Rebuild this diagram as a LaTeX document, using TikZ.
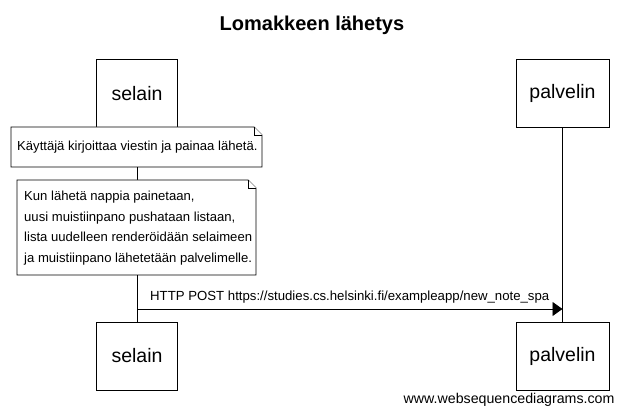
\documentclass[tikz,border=0pt]{standalone}
\usepackage{fontspec}
\setmainfont{Liberation Sans}
\usetikzlibrary{arrows.meta}
\tikzset{
  actor/.style={draw=black, line width=0.9pt, fill=white, minimum width=81pt, minimum height=68pt, inner sep=0pt, font=\fontsize{19.5}{22}\selectfont},
  notetext/.style={align=left, inner sep=0pt, font=\fontsize{13.1}{20.5}\selectfont},
  lifeline/.style={line width=0.9pt},
  msg/.style={line width=0.9pt, -{Triangle[length=10pt,width=14pt]}},
  notebox/.style={draw=black, line width=0.9pt, fill=white},
  fold/.style={draw=black, line width=0.9pt, fill=white},
}
\newcommand{\notefold}[4]{% x1 y1 x2 y2
  \path[notebox] (#1,#2) -- (#3-8,#2) -- (#3,#2+8) -- (#3,#4) -- (#1,#4) -- cycle;
  \path[fold] (#3-8,#2) -- (#3-8,#2+8) -- (#3,#2+8);
}
\begin{document}
\begin{tikzpicture}[x=1pt,y=-1pt]
\useasboundingbox (0,0) rectangle (625,414);
\fill[white] (0,0) rectangle (625,414);
\node[font=\bfseries\fontsize{20}{24}\selectfont] (title) at (312,25) {Lomakkeen lähetys};
\node[actor] (s1) at (137,93.5) {selain};
\node[actor, minimum width=93pt] (p1) at (562.5,93.5) {palvelin};
\node[actor] (s2) at (137,356) {selain};
\node[actor, minimum width=93pt] (p2) at (562.5,356) {palvelin};
\draw[lifeline] (s1.south) -- (s2.north);
\draw[lifeline] (p1.south) -- (p2.north);
\notefold{11}{127}{262}{167}
\node[notetext, anchor=west] (n1) at (17,147.5) {Käyttäjä kirjoittaa viestin ja painaa lähetä.};
\notefold{17}{180}{256}{275}
\node[notetext, anchor=north west] (n2) at (24,191) {Kun lähetä nappia painetaan,\\uusi muistiinpano pushataan listaan,\\lista uudelleen renderöidään selaimeen\\ja muistiinpano lähetetään palvelimelle.};
\coordinate (m1) at (s1.south |- 0,309);
\coordinate (m2) at (p1.south |- 0,309);
\draw[msg] (m1) -- (m2) node[pos=0.5, above=2pt, font=\fontsize{13.2}{15}\selectfont] (ml) {HTTP POST https://studies.cs.helsinki.fi/exampleapp/new\_note\_spa};
\node[anchor=east, font=\fontsize{14.2}{16}\selectfont] (web) at (618,400) {www.websequencediagrams.com};
\end{tikzpicture}
\end{document}
